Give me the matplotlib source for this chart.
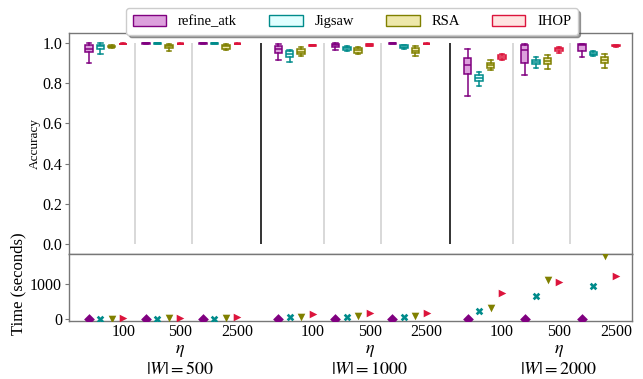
import numpy as np
import matplotlib
matplotlib.use("Agg")
import matplotlib.pyplot as plt
import matplotlib.transforms as mtransforms
from matplotlib.patches import Patch

plt.rcParams['font.family'] = ['Liberation Serif', 'DejaVu Serif']
plt.rcParams['mathtext.fontset'] = 'stix'
plt.rcParams['font.size'] = 10.5

methods = ['refine_atk', 'Jigsaw', 'RSA', 'IHOP']
edge_colors = ['#800080', '#008b8b', '#808000', '#dc143c']
face_colors = ['#dda0dd', '#e0ffff', '#eee8aa', '#ffe4e1']
markers = ['D', 'X', 'v', '>']
etas = ['100', '500', '2500']
w_sizes = [500, 1000, 2000]

# accuracy box stats per method: (whislo, q1, med, q3, whishi),
# ordered W=500 (eta 100, 500, 2500), W=1000 (...), W=2000 (...)
acc_refine = [(0.900, 0.955, 0.969, 0.990, 0.998), (0.996, 0.997, 0.998, 0.999, 1.000),
              (0.996, 0.997, 0.998, 0.999, 1.000), (0.914, 0.952, 0.969, 0.986, 0.996),
              (0.966, 0.980, 0.990, 0.994, 0.998), (0.996, 0.997, 0.998, 0.999, 1.000),
              (0.735, 0.845, 0.893, 0.924, 0.971), (0.843, 0.902, 0.966, 0.989, 0.995),
              (0.931, 0.961, 0.990, 0.994, 0.996)]
acc_jigsaw = [(0.944, 0.970, 0.985, 0.990, 0.998), (0.996, 0.997, 0.998, 0.999, 1.000),
              (0.996, 0.997, 0.998, 0.999, 1.000), (0.906, 0.932, 0.947, 0.960, 0.964),
              (0.962, 0.966, 0.975, 0.980, 0.985), (0.972, 0.976, 0.982, 0.988, 0.990),
              (0.786, 0.811, 0.826, 0.840, 0.858), (0.876, 0.894, 0.906, 0.916, 0.931),
              (0.934, 0.940, 0.947, 0.955, 0.960)]
acc_rsa = [(0.975, 0.978, 0.982, 0.987, 0.990), (0.960, 0.974, 0.985, 0.990, 0.995),
           (0.965, 0.972, 0.984, 0.990, 0.994), (0.934, 0.944, 0.957, 0.972, 0.980),
           (0.944, 0.952, 0.965, 0.974, 0.982), (0.934, 0.951, 0.962, 0.974, 0.986),
           (0.865, 0.876, 0.891, 0.902, 0.918), (0.871, 0.894, 0.909, 0.924, 0.941),
           (0.876, 0.902, 0.917, 0.931, 0.947)]
acc_ihop = [(0.994, 0.995, 0.996, 0.997, 0.998), (0.994, 0.995, 0.996, 0.997, 0.998),
            (0.994, 0.995, 0.996, 0.997, 0.998), (0.983, 0.985, 0.988, 0.990, 0.992),
            (0.984, 0.986, 0.990, 0.993, 0.995), (0.993, 0.995, 0.996, 0.997, 0.998),
            (0.915, 0.919, 0.931, 0.941, 0.944), (0.952, 0.961, 0.970, 0.977, 0.980),
            (0.982, 0.984, 0.986, 0.988, 0.990)]

# mean running time in seconds, same ordering
time_refine = [10, 10, 10, 12, 12, 12, 15, 15, 15]
time_jigsaw = [15, 15, 15, 50, 60, 60, 240, 670, 940]
time_rsa = [20, 25, 25, 70, 100, 100, 310, 1120, 1780]
time_ihop = [40, 40, 50, 160, 180, 190, 740, 1070, 1220]

acc_all = [acc_refine, acc_jigsaw, acc_rsa, acc_ihop]
time_all = [time_refine, time_jigsaw, time_rsa, time_ihop]

W_STEP, ETA_STEP = 16.6, 5.0
TICK_FS = 11.5


def pos(w, e, m):
    return w * W_STEP + e * ETA_STEP + m


fig = plt.figure(figsize=(6.43, 3.79), dpi=100)
ax1 = fig.add_axes([69 / 643, 1 - 254 / 379, 563 / 643, 221 / 379])
ax2 = fig.add_axes([69 / 643, 1 - 321 / 379, 563 / 643, 67 / 379])

spine_col = '#777777'
for ax in (ax1, ax2):
    for s in ax.spines.values():
        s.set_color(spine_col)
        s.set_linewidth(1.0)
    ax.set_xlim(-1.75, 47.6)

# separators between eta groups and between |W| groups
for w in range(3):
    for e in (1, 2):
        x = pos(w, e, 0) - 1.0
        ax1.vlines(x, 0, 1.0, color='#d8d8d8', lw=1.4, zorder=0)
    if w > 0:
        ax1.vlines(w * W_STEP - 1.55, 0, 1.0, color='#333333', lw=1.4, zorder=0)

# accuracy boxes
for m in range(4):
    stats = []
    xs = []
    for i, (q0, q1, q2, q3, q4) in enumerate(acc_all[m]):
        stats.append(dict(whislo=q0, q1=q1, med=q2, q3=q3, whishi=q4, fliers=[]))
        xs.append(pos(i // 3, i % 3, m))
    ec = edge_colors[m]
    ax1.bxp(stats, positions=xs, widths=0.65, capwidths=0.4, patch_artist=True,
            showfliers=False, manage_ticks=False,
            boxprops=dict(facecolor=face_colors[m], edgecolor=ec, lw=1.1),
            medianprops=dict(color=ec, lw=1.1),
            whiskerprops=dict(color=ec, lw=1.1),
            capprops=dict(color=ec, lw=1.1))

ax1.set_ylim(-0.05, 1.05)
ax1.set_yticks([0.0, 0.2, 0.4, 0.6, 0.8, 1.0])
ax1.set_yticklabels(['0.0', '0.2', '0.4', '0.6', '0.8', '1.0'])
ax1.set_xticks([])
ax1.tick_params(axis='y', length=3, color=spine_col, pad=2, labelsize=TICK_FS)
ax1.set_ylabel('Accuracy', fontsize=9.5)
ax1.yaxis.set_label_coords(-0.05, 0.5)

# running time scatter
for m in range(4):
    xs = [pos(i // 3, i % 3, m) for i in range(9)]
    ax2.scatter(xs, time_all[m], marker=markers[m], color=edge_colors[m],
                s=30, linewidths=0, zorder=3)

ax2.set_ylim(-50, 1850)
ax2.set_yticks([0, 1000])
ax2.tick_params(axis='y', length=3, color=spine_col, pad=2, labelsize=TICK_FS)
ax2.set_ylabel('Time (seconds)', fontsize=12)
ax2.yaxis.set_label_coords(-0.075, 0.55)

tick_x = [pos(w, e, 3) for w in range(3) for e in range(3)]
ax2.set_xticks(tick_x)
ax2.set_xticklabels(etas * 3)
ax2.tick_params(axis='x', length=0, pad=2.5, labelsize=TICK_FS)

trans = mtransforms.blended_transform_factory(ax2.transData, fig.transFigure)
for w, size in enumerate(w_sizes):
    xc = pos(w, 1, 3)
    ax2.text(xc, 1 - 353 / 379, r'$\eta$', transform=trans, ha='center',
             va='baseline', fontsize=13)
    ax2.text(xc, 1 - 369 / 379, r'$|W| = %d$' % size, transform=trans,
             ha='center', va='center', fontsize=13)

handles = [Patch(facecolor=face_colors[m], edgecolor=edge_colors[m], lw=1.0,
                 label=methods[m]) for m in range(4)]
fig.legend(handles=handles, loc='upper center', bbox_to_anchor=(352 / 643, 1 - 1 / 379),
           ncol=4, shadow=True, fancybox=True, framealpha=1, edgecolor='#cccccc',
           handlelength=2.3, handleheight=0.75, handletextpad=0.8,
           columnspacing=2.2, borderpad=0.45, fontsize=10.5)

fig.savefig('out.png', dpi=100)
